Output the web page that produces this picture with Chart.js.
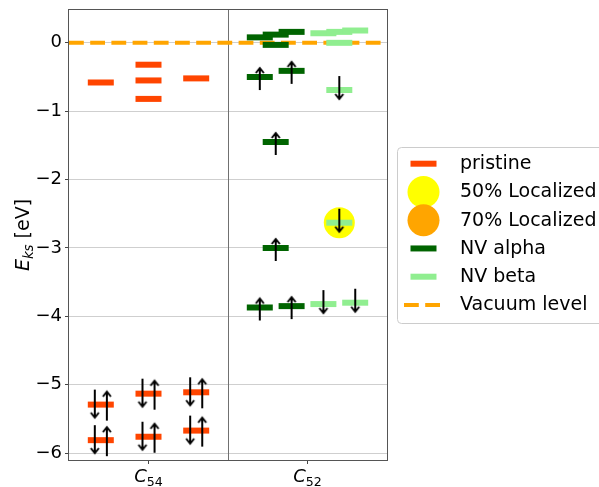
<!DOCTYPE html>
<html><head><meta charset="utf-8">
<script src="https://cdn.jsdelivr.net/npm/chart.js@4.4.0/dist/chart.umd.min.js"></script>
<style>html,body{margin:0;padding:0;background:#fff}canvas{display:block}</style>
</head><body>
<canvas id="c" width="599" height="487"></canvas>
<script>
// ---------------- data ----------------
const categoryBase = ['C', 'C'];
const categorySub = ['54', '52'];
const categoryPos = [0.5, 1.5];
const panelDivider = 1;
const yTicks = [0, -1, -2, -3, -4, -5, -6];
const vacuumLevel = 0;

// pristine C54 levels (column position, energy in eV)
const pristineX = [0.2, 0.2, 0.2, 0.5, 0.5, 0.5, 0.5, 0.5, 0.8, 0.8, 0.8];
const pristineE = [-0.58, -5.29, -5.81, -0.32, -0.55, -0.82, -5.13, -5.76, -0.52, -5.11, -5.67];
// doubly occupied pristine levels (get an up + down arrow)
const pairedX = [0.2, 0.2, 0.5, 0.5, 0.8, 0.8];
const pairedE = [-5.29, -5.81, -5.13, -5.76, -5.11, -5.67];

// NV alpha levels
const alphaX = [1.2, 1.2, 1.2, 1.3, 1.3, 1.3, 1.3, 1.4, 1.4, 1.4];
const alphaE = [0.08, -0.50, -3.87, 0.12, -0.03, -1.45, -3.00, 0.16, -0.41, -3.85];
const alphaOccX = [1.2, 1.2, 1.3, 1.3, 1.4, 1.4];
const alphaOccE = [-0.50, -3.87, -1.45, -3.00, -0.41, -3.85];

// NV beta levels
const betaX = [1.6, 1.6, 1.7, 1.7, 1.7, 1.7, 1.8, 1.8];
const betaE = [0.14, -3.82, 0.16, 0.00, -0.69, -2.63, 0.18, -3.80];
const betaOccX = [1.6, 1.7, 1.7, 1.8];
const betaOccE = [-3.82, -0.69, -2.63, -3.80];

// localization markers
const loc50X = [1.7];
const loc50E = [-2.63];
const loc70X = [];
const loc70E = [];

// ---------------- styling ----------------
const FONT = '"DejaVu Sans", "Liberation Sans", sans-serif';
const COL = {
  pristine: '#FF4500', alpha: '#006400', beta: '#90EE90',
  loc50: '#FFFF00', loc70: '#FFA500', vacuum: '#FFA500'
};
const pairOffset = 0.038;
const toPts = (xs, ys) => xs.map((x, i) => ({ x, y: ys[i] }));

function makeArrow(up, above, below) {
  const m = Math.max(above, below);
  const h = 2 * m + 4, w = 14;
  const c = document.createElement('canvas');
  c.width = w; c.height = h;
  const g = c.getContext('2d');
  const cy = h / 2, top = cy - above, bot = cy + below;
  g.strokeStyle = '#000'; g.lineWidth = 2; g.lineJoin = 'miter';
  g.beginPath(); g.moveTo(7, up ? top + 1 : top); g.lineTo(7, up ? bot : bot - 1); g.stroke();
  g.beginPath();
  if (up) { g.moveTo(3, top + 6); g.lineTo(7, top + 1); g.lineTo(11, top + 6); }
  else { g.moveTo(3, bot - 6); g.lineTo(7, bot - 1); g.lineTo(11, bot - 6); }
  g.stroke();
  return c;
}
const upLong = makeArrow(true, 14, 16), downLong = makeArrow(false, 15, 14);
const upShort = makeArrow(true, 10, 13), downShort = makeArrow(false, 14, 10);

const upPts = toPts(pairedX.map(x => x + pairOffset), pairedE).concat(toPts(alphaOccX, alphaOccE));
const downPts = toPts(pairedX.map(x => x - pairOffset), pairedE).concat(toPts(betaOccX, betaOccE));

const levelStyle = (color) => ({
  pointStyle: 'line', pointRadius: 13, pointHoverRadius: 13,
  borderWidth: 6, pointBorderWidth: 6, borderColor: color, pointBorderColor: color,
  backgroundColor: color
});

// ---------------- plugin: frame, labels, legend ----------------
function drawMath(ctx, parts) {
  let x = 0;
  for (const p of parts) {
    ctx.font = (p.italic ? 'italic ' : '') + p.size + 'px ' + FONT;
    ctx.fillText(p.t, x, p.shift || 0);
    x += ctx.measureText(p.t).width;
  }
  return x;
}
function measureMath(ctx, parts) {
  let x = 0;
  for (const p of parts) {
    ctx.font = (p.italic ? 'italic ' : '') + p.size + 'px ' + FONT;
    x += ctx.measureText(p.t).width;
  }
  return x;
}

const decor = {
  id: 'decor',
  beforeDatasetsDraw(chart) {
    const { ctx, chartArea: a, scales: { x } } = chart;
    const px = Math.round(x.getPixelForValue(panelDivider)) + 0.5;
    ctx.save();
    ctx.strokeStyle = '#707070'; ctx.lineWidth = 1;
    ctx.beginPath(); ctx.moveTo(px, a.top); ctx.lineTo(px, a.bottom); ctx.stroke();
    ctx.restore();
  },
  afterDraw(chart) {
    const { ctx, chartArea: a, scales: { x } } = chart;
    ctx.save();
    ctx.strokeStyle = '#555'; ctx.lineWidth = 1;
    ctx.strokeRect(a.left - 0.5, a.top - 0.5, a.right - a.left + 1, a.bottom - a.top + 1);

    ctx.fillStyle = '#000'; ctx.textBaseline = 'alphabetic'; ctx.textAlign = 'left';
    categoryPos.forEach((v, i) => {
      const parts = [
        { t: categoryBase[i], italic: true, size: 18 },
        { t: categorySub[i], italic: false, size: 12.6, shift: 3.5 }
      ];
      const w = measureMath(ctx, parts);
      ctx.save();
      ctx.translate(x.getPixelForValue(v) - w / 2, 482);
      drawMath(ctx, parts);
      ctx.restore();
    });

    const yl = [
      { t: 'E', italic: true, size: 19 },
      { t: 'ks', italic: true, size: 13.3, shift: 4 },
      { t: ' [eV]', italic: false, size: 19 }
    ];
    const wy = measureMath(ctx, yl);
    ctx.save();
    ctx.translate(29, (a.top + a.bottom) / 2 + wy / 2);
    ctx.rotate(-Math.PI / 2);
    drawMath(ctx, yl);
    ctx.restore();

    const lx = 397.5, ly = 147.5, lh = 176;
    ctx.fillStyle = 'rgba(255,255,255,0.8)';
    ctx.strokeStyle = '#cccccc'; ctx.lineWidth = 1;
    ctx.beginPath();
    ctx.roundRect(lx, ly, 260, lh, 4);
    ctx.fill(); ctx.stroke();
    const items = chart.data.datasets
      .filter(d => d.legendRank !== undefined)
      .sort((p, q) => p.legendRank - q.legendRank);
    const hx = 423, tx = 460;
    items.forEach((d, i) => {
      const cy = 163.7 + 28.25 * i;
      ctx.save();
      if (d.legendKind === 'bar') {
        ctx.strokeStyle = d.pointBorderColor; ctx.lineWidth = 6;
        ctx.beginPath(); ctx.moveTo(hx - 12.5, cy); ctx.lineTo(hx + 13.5, cy); ctx.stroke();
      } else if (d.legendKind === 'dot') {
        ctx.fillStyle = d.backgroundColor;
        ctx.beginPath(); ctx.arc(hx + 0.5, cy, 16, 0, Math.PI * 2); ctx.fill();
      } else if (d.legendKind === 'dash') {
        ctx.strokeStyle = d.borderColor; ctx.lineWidth = d.borderWidth;
        ctx.setLineDash(d.borderDash);
        ctx.beginPath(); ctx.moveTo(404, cy); ctx.lineTo(441, cy); ctx.stroke();
      }
      ctx.restore();
      ctx.fillStyle = '#000';
      ctx.font = '19px ' + FONT;
      ctx.textAlign = 'left'; ctx.textBaseline = 'alphabetic';
      ctx.fillText(d.label, tx, cy + 5.5);
    });
    ctx.restore();
  }
};

// ---------------- chart ----------------
new Chart(document.getElementById('c'), {
  type: 'scatter',
  data: {
    datasets: [
      { label: 'Vacuum level', legendRank: 5, legendKind: 'dash', order: 10,
        data: [{ x: 0, y: vacuumLevel }, { x: 2, y: vacuumLevel }],
        showLine: true, borderColor: COL.vacuum, borderWidth: 4, borderDash: [14.8, 6.4],
        pointRadius: 0, fill: false },
      { label: '50% Localized', legendRank: 1, legendKind: 'dot', order: 9,
        data: toPts(loc50X, loc50E), pointRadius: 15.5, pointHoverRadius: 15.5,
        backgroundColor: COL.loc50, pointBackgroundColor: COL.loc50, borderWidth: 0, pointBorderWidth: 0 },
      { label: '70% Localized', legendRank: 2, legendKind: 'dot', order: 8,
        data: toPts(loc70X, loc70E), pointRadius: 15.5,
        backgroundColor: COL.loc70, pointBackgroundColor: COL.loc70, borderWidth: 0 },
      Object.assign({ label: 'pristine', legendRank: 0, legendKind: 'bar', order: 5,
        data: toPts(pristineX, pristineE) }, levelStyle(COL.pristine)),
      Object.assign({ label: 'NV alpha', legendRank: 3, legendKind: 'bar', order: 4,
        data: toPts(alphaX, alphaE) }, levelStyle(COL.alpha)),
      Object.assign({ label: 'NV beta', legendRank: 4, legendKind: 'bar', order: 3,
        data: toPts(betaX, betaE) }, levelStyle(COL.beta)),
      { label: 'spin up', order: 1, data: upPts, pointRadius: 5,
        pointStyle: (c) => (c.raw && c.raw.x < panelDivider ? upLong : upShort) },
      { label: 'spin down', order: 0, data: downPts, pointRadius: 5,
        pointStyle: (c) => (c.raw && c.raw.x < panelDivider ? downLong : downShort) }
    ]
  },
  options: {
    responsive: false, animation: false, events: [],
    layout: { autoPadding: false, padding: { top: 10, right: 212, left: 0, bottom: 0 } },
    plugins: { legend: { display: false }, tooltip: { enabled: false } },
    scales: {
      x: {
        type: 'linear', min: 0, max: 2,
        afterBuildTicks: (s) => { s.ticks = categoryPos.map(v => ({ value: v })); },
        afterFit: (s) => { s.height = 27; s.paddingLeft = 0; s.paddingRight = 0; },
        ticks: { callback: () => '', font: { size: 18, family: FONT } },
        grid: { drawOnChartArea: false, drawTicks: true, tickLength: 4, tickColor: '#444', tickWidth: 1 },
        border: { display: false }
      },
      y: {
        type: 'linear', min: -6.1, max: 0.48,
        afterBuildTicks: (s) => { s.ticks = yTicks.map(v => ({ value: v })); },
        afterFit: (s) => { s.width = 69; s.paddingTop = 0; s.paddingBottom = 0; },
        ticks: {
          includeBounds: false, padding: 3, color: '#000',
          font: { size: 18, family: FONT },
          callback: (v) => (v === 0 ? '0' : '\u2212' + Math.abs(v))
        },
        grid: { color: '#cfcfcf', lineWidth: 1, tickLength: 4, tickColor: '#444', tickWidth: 1 },
        border: { display: false }
      }
    }
  },
  plugins: [decor]
});
</script>
</body></html>
